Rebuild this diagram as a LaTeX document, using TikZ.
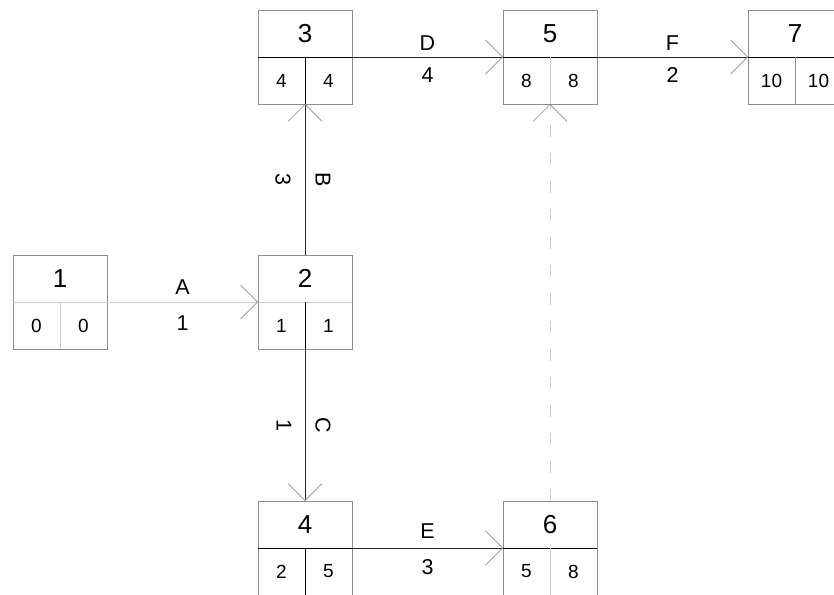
\documentclass[tikz,border=0pt]{standalone}
\usepackage{fontspec}
\setmainfont{Liberation Sans}
\usetikzlibrary{arrows.meta}
\definecolor{boxgray}{gray}{0.55}
\definecolor{lightline}{gray}{0.80}
\definecolor{tipgray}{gray}{0.55}
\definecolor{darkline}{gray}{0.15}
\newcommand\netnode[8]{%
  \node[box] (#1) at (#2,#3) {};
  \draw[#7, line width=0.8pt] (#1.west) -- (#1.east);
  \draw[#8, line width=0.8pt] (#1.center) -- (#1.south);
  \node[numtxt] (#1-n) at (#2,{#3-23.5}) {#4};
  \node[valtxt] (#1-e) at ({#2-23.5},{#3+23.5}) {#5};
  \node[valtxt] (#1-l) at ({#2+23.5},{#3+23.5}) {#6};
}
\begin{document}
\begin{tikzpicture}[x=1pt,y=-1pt,
  box/.style={draw=boxgray, line width=0.8pt, fill=white, minimum width=94pt, minimum height=94pt, inner sep=0pt, outer sep=0pt},
  numtxt/.style={font=\fontsize{26}{26}\selectfont, inner sep=0pt},
  valtxt/.style={font=\fontsize{19}{19}\selectfont, inner sep=0pt},
  lbl/.style={font=\fontsize{21.5}{21.5}\selectfont, inner sep=0pt},
  arr/.style={-{Straight Barb[length=17pt, width=34pt, line width=0.6pt, color=tipgray]}, line width=0.9pt},
  crit/.style={arr, draw=darkline},
  noncrit/.style={arr, draw=lightline},
  dummy/.style={arr, draw=lightline, dash pattern=on 12pt off 16pt}
]
\useasboundingbox (0,0) rectangle (834,594);
\clip (0,0) rectangle (834,594);

\netnode{n1}{60}{302}{1}{0}{0}{lightline}{lightline}
\netnode{n2}{305}{302}{2}{1}{1}{lightline}{black}
\netnode{n3}{305}{57}{3}{4}{4}{black}{black}
\netnode{n4}{305}{548}{4}{2}{5}{black}{black}
\netnode{n5}{550}{57}{5}{8}{8}{black}{lightline}
\netnode{n6}{550}{548}{6}{5}{8}{black}{lightline}
\netnode{n7}{795}{57}{7}{10}{10}{black}{boxgray}

\draw[noncrit] (n1.east) -- (n2.west)
  node[lbl, midway, yshift=15pt] (lA) {A}
  node[lbl, midway, yshift=-21pt] (dA) {1};
\draw[crit] (n2.north) -- (n3.south)
  node[lbl, midway, xshift=-22pt, rotate=-90] (dB) {3}
  node[lbl, midway, xshift=18pt, rotate=-90] (lB) {B};
\draw[crit] (n2.south) -- (n4.north)
  node[lbl, midway, xshift=-21pt, rotate=-90] (dC) {1}
  node[lbl, midway, xshift=18pt, rotate=-90] (lC) {C};
\draw[crit] (n3.east) -- (n5.west)
  node[lbl, midway, yshift=14pt] (lD) {D}
  node[lbl, midway, yshift=-18pt] (dD) {4};
\draw[crit] (n5.east) -- (n7.west)
  node[lbl, midway, yshift=14pt] (lF) {F}
  node[lbl, midway, yshift=-18pt] (dF) {2};
\draw[crit] (n4.east) -- (n6.west)
  node[lbl, midway, yshift=17pt] (lE) {E}
  node[lbl, midway, yshift=-19pt] (dE) {3};
\draw[dummy] (n6.north) -- (n5.south);
\end{tikzpicture}
\end{document}
